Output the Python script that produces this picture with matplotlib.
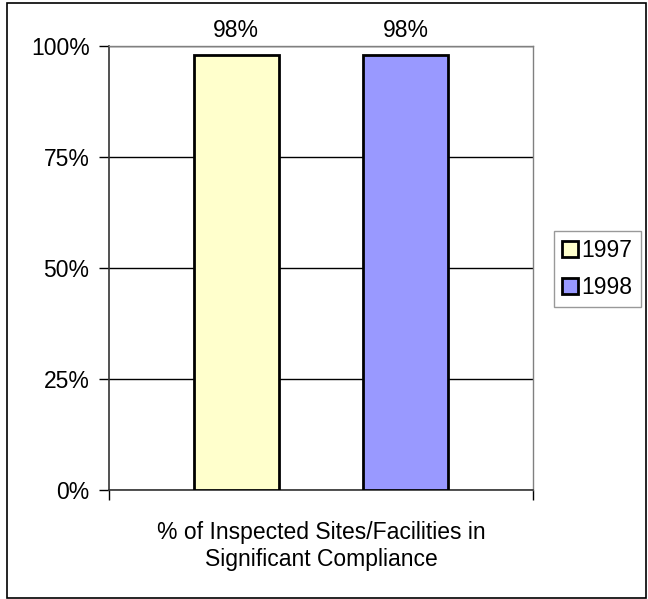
import matplotlib.pyplot as plt
from matplotlib.patches import Rectangle
from matplotlib.ticker import PercentFormatter

plt.rcParams['font.family'] = ['Liberation Sans', 'DejaVu Sans']

years = ['1997', '1998']
values = [98, 98]
colors = ['#FFFFCC', '#9999FF']
category = '% of Inspected Sites/Facilities in\nSignificant Compliance'
yticks = [0, 25, 50, 75, 100]

FS = 16.5

fig = plt.figure(figsize=(6.48, 5.99), dpi=100)
# plot area in pixels: x 109..533, y 46..490
ax = fig.add_axes([109 / 648, 1 - 490 / 599, 424 / 648, 444 / 599])

positions = [1.5, 3.5]
bars = []
for pos, val, col, yr in zip(positions, values, colors, years):
    b = ax.bar(pos, val, width=1.0, color=col, edgecolor='black',
               linewidth=2, label=yr, zorder=3)
    bars.append(b)
    ax.text(pos, 100 + 1.0, f'{val}%', ha='center', va='bottom', fontsize=FS)

ax.set_xlim(0, 5)
ax.set_ylim(0, 100)
ax.set_yticks(yticks)
ax.yaxis.set_major_formatter(PercentFormatter(decimals=0))
ax.tick_params(axis='y', labelsize=FS, length=7, width=1, direction='out', pad=7)
ax.set_xticks([0, 5])
ax.set_xticklabels(['', ''])
ax.tick_params(axis='x', length=7, width=1, direction='out')
ax.yaxis.grid(True, color='black', linewidth=1, zorder=0)

for side in ['top', 'right']:
    ax.spines[side].set_color('#808080')
    ax.spines[side].set_linewidth(1)
for side in ['left', 'bottom']:
    ax.spines[side].set_color('#333333')
    ax.spines[side].set_linewidth(1.2)

ax.set_xlabel(category, fontsize=FS, labelpad=12, linespacing=1.2)

leg = fig.legend(handles=[b[0] for b in bars], labels=years,
                 loc='upper left', bbox_to_anchor=(554 / 648, 1 - 231 / 599),
                 fontsize=FS, frameon=True, fancybox=False,
                 handlelength=0.7, handleheight=0.7, handletextpad=0.15,
                 borderpad=0.35, labelspacing=0.6, borderaxespad=0)
leg.get_frame().set_edgecolor('#808080')
leg.get_frame().set_linewidth(1)

# outer chart frame
fig.patches.append(Rectangle((6.5 / 648, 1.5 / 599), 639.5 / 648, 595 / 599,
                             transform=fig.transFigure, fill=False,
                             edgecolor='black', linewidth=1.2))

fig.savefig('out.png', dpi=100)
